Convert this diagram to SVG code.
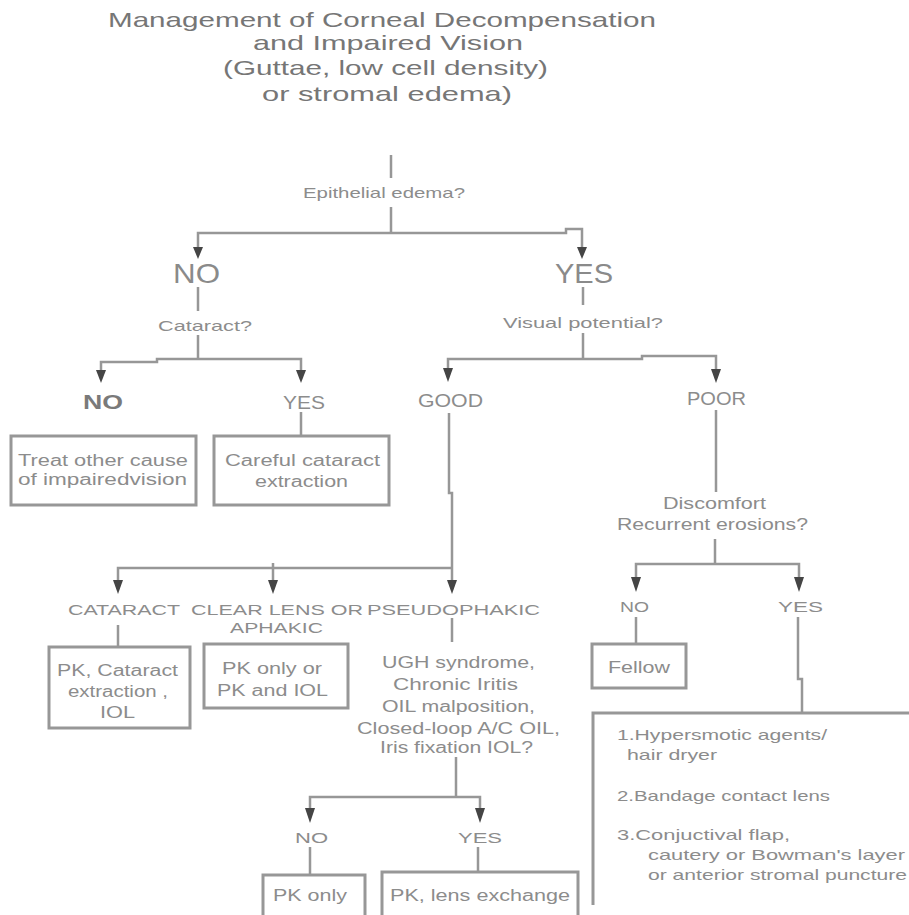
<svg xmlns="http://www.w3.org/2000/svg" width="909" height="915" viewBox="0 0 909 915">
<style>
text{font-family:"Liberation Sans",Arial,sans-serif;fill:#8c8c8c;}
.t{font-size:21px;fill:#767676;}
.s{font-size:15px;}
.m{font-size:16px;}
.b{font-size:28px;fill:#8a8a8a;}
.c{font-size:19px;}
.ln{fill:none;stroke:#979797;stroke-width:2.5;}
.bx{fill:none;stroke:#979797;stroke-width:3;}
.ar{fill:#454545;}
</style>
<rect width="909" height="915" fill="#fff"/>
<g id="title">
<text class="t" x="108" y="27" textLength="548" lengthAdjust="spacingAndGlyphs">Management of Corneal Decompensation</text>
<text class="t" x="253" y="50" textLength="270" lengthAdjust="spacingAndGlyphs">and Impaired Vision</text>
<text class="t" x="223" y="75" textLength="325" lengthAdjust="spacingAndGlyphs">(Guttae, low cell density)</text>
<text class="t" x="262" y="101" textLength="250" lengthAdjust="spacingAndGlyphs">or stromal edema)</text>
</g>
<g id="connectors">
<path class="ln" d="M391,155V178M391,207V233M198,248V233H566V229H582V248"/>
<path class="ln" d="M198,287V311M198,335V359M101,371V362H157V359H301V371M301,412V436"/>
<path class="ln" d="M583,287V305M583,333V359M448,369V359H642V356H716V370"/>
<path class="ln" d="M449,413V493H452V581M118,581V568H452M273,563V581M118,625V647M452,618V642"/>
<path class="ln" d="M456,757V797M310,809V797H480V809M310,847V875M478,847V872"/>
<path class="ln" d="M716,410V492M715,539V564M636,578V564H799V578M636,617V644M798,617V679H802V713"/>
<polygon class="ar" points="193,247 203,247 198,259"/>
<polygon class="ar" points="577,247 587,247 582,259"/>
<polygon class="ar" points="96,370 106,370 101,383"/>
<polygon class="ar" points="296,370 306,370 301,383"/>
<polygon class="ar" points="443,368 453,368 448,382"/>
<polygon class="ar" points="711,369 721,369 716,383"/>
<polygon class="ar" points="113,580 123,580 118,594"/>
<polygon class="ar" points="268,580 278,580 273,594"/>
<polygon class="ar" points="447,580 457,580 452,594"/>
<polygon class="ar" points="631,577 641,577 636,592"/>
<polygon class="ar" points="794,577 804,577 799,592"/>
<polygon class="ar" points="305,808 315,808 310,823"/>
<polygon class="ar" points="475,808 485,808 480,823"/>
</g>
<g id="q-epithelial"><text class="s" x="303" y="198" textLength="162" lengthAdjust="spacingAndGlyphs">Epithelial edema?</text></g>
<g id="no-1"><text class="b" x="173" y="283" textLength="47" lengthAdjust="spacingAndGlyphs">NO</text></g>
<g id="yes-1"><text class="b" x="555" y="283" textLength="58" lengthAdjust="spacingAndGlyphs">YES</text></g>
<g id="q-cataract"><text class="s" x="158" y="331" textLength="94" lengthAdjust="spacingAndGlyphs">Cataract?</text></g>
<g id="q-visual"><text class="s" x="503" y="328" textLength="160" lengthAdjust="spacingAndGlyphs">Visual potential?</text></g>
<g id="no-2"><text style="font-size:20px;fill:#7a7a7a;font-weight:bold" x="83" y="409" textLength="40" lengthAdjust="spacingAndGlyphs">NO</text></g>
<g id="yes-2"><text class="c" x="283" y="409" textLength="42" lengthAdjust="spacingAndGlyphs">YES</text></g>
<g id="good"><text class="c" x="418" y="407" textLength="65" lengthAdjust="spacingAndGlyphs">GOOD</text></g>
<g id="poor"><text class="c" x="687" y="405" textLength="59" lengthAdjust="spacingAndGlyphs">POOR</text></g>
<g id="box-treat">
<rect class="bx" x="11" y="436" width="185" height="69"/>
<text class="m" x="18" y="466" textLength="170" lengthAdjust="spacingAndGlyphs">Treat other cause</text>
<text class="m" x="18" y="485" textLength="169" lengthAdjust="spacingAndGlyphs">of impairedvision</text>
</g>
<g id="box-careful">
<rect class="bx" x="214" y="436" width="175" height="69"/>
<text class="m" x="225" y="466" textLength="155" lengthAdjust="spacingAndGlyphs">Careful cataract</text>
<text class="m" x="255" y="487" textLength="93" lengthAdjust="spacingAndGlyphs">extraction</text>
</g>
<g id="q-discomfort">
<text class="m" x="663" y="509" textLength="103" lengthAdjust="spacingAndGlyphs">Discomfort</text>
<text class="m" x="617" y="530" textLength="191" lengthAdjust="spacingAndGlyphs">Recurrent erosions?</text>
</g>
<g id="cataract"><text class="s" x="68" y="615" textLength="112" lengthAdjust="spacingAndGlyphs">CATARACT</text></g>
<g id="clear-lens">
<text class="s" x="191" y="615" textLength="172" lengthAdjust="spacingAndGlyphs">CLEAR LENS OR</text>
<text class="s" x="230" y="633" textLength="93" lengthAdjust="spacingAndGlyphs">APHAKIC</text>
</g>
<g id="pseudophakic"><text class="s" x="367" y="615" textLength="173" lengthAdjust="spacingAndGlyphs">PSEUDOPHAKIC</text></g>
<g id="no-3"><text class="s" x="620" y="612" textLength="29" lengthAdjust="spacingAndGlyphs">NO</text></g>
<g id="yes-3"><text class="s" x="778" y="612" textLength="45" lengthAdjust="spacingAndGlyphs">YES</text></g>
<g id="box-fellow">
<rect class="bx" x="592" y="644" width="94" height="44"/>
<text class="m" x="608" y="673" textLength="62" lengthAdjust="spacingAndGlyphs">Fellow</text>
</g>
<g id="box-pk-cataract">
<rect class="bx" x="49" y="647" width="141" height="81"/>
<text class="m" x="57" y="676" textLength="121" lengthAdjust="spacingAndGlyphs">PK, Cataract</text>
<text class="m" x="68" y="697" textLength="100" lengthAdjust="spacingAndGlyphs">extraction ,</text>
<text class="m" x="100" y="718" textLength="35" lengthAdjust="spacingAndGlyphs">IOL</text>
</g>
<g id="box-pk-only-or">
<rect class="bx" x="204" y="644" width="144" height="64"/>
<text class="m" x="222" y="674" textLength="100" lengthAdjust="spacingAndGlyphs">PK only or</text>
<text class="m" x="217" y="696" textLength="111" lengthAdjust="spacingAndGlyphs">PK and IOL</text>
</g>
<g id="q-ugh">
<text class="m" x="382" y="668" textLength="153" lengthAdjust="spacingAndGlyphs">UGH syndrome,</text>
<text class="m" x="393" y="690" textLength="125" lengthAdjust="spacingAndGlyphs">Chronic Iritis</text>
<text class="m" x="382" y="712" textLength="153" lengthAdjust="spacingAndGlyphs">OIL malposition,</text>
<text class="m" x="357" y="734" textLength="203" lengthAdjust="spacingAndGlyphs">Closed-loop A/C OIL,</text>
<text class="m" x="380" y="753" textLength="153" lengthAdjust="spacingAndGlyphs">Iris fixation IOL?</text>
</g>
<g id="no-4"><text class="s" x="295" y="843" textLength="33" lengthAdjust="spacingAndGlyphs">NO</text></g>
<g id="yes-4"><text class="s" x="458" y="843" textLength="44" lengthAdjust="spacingAndGlyphs">YES</text></g>
<g id="box-pk-only">
<rect class="bx" x="263" y="875" width="102" height="60"/>
<text class="m" x="273" y="901" textLength="74" lengthAdjust="spacingAndGlyphs">PK only</text>
</g>
<g id="box-pk-lens">
<rect class="bx" x="382" y="872" width="196" height="60"/>
<text class="m" x="390" y="901" textLength="180" lengthAdjust="spacingAndGlyphs">PK, lens exchange</text>
</g>
<g id="box-treatments">
<path class="bx" d="M593,905V713H915"/>
<text class="s" x="617" y="740" textLength="210" lengthAdjust="spacingAndGlyphs">1.Hypersmotic agents/</text>
<text class="s" x="627" y="760" textLength="90" lengthAdjust="spacingAndGlyphs">hair dryer</text>
<text class="s" x="617" y="801" textLength="213" lengthAdjust="spacingAndGlyphs">2.Bandage contact lens</text>
<text class="s" x="617" y="840" textLength="173" lengthAdjust="spacingAndGlyphs">3.Conjuctival flap,</text>
<text class="s" x="648" y="860" textLength="257" lengthAdjust="spacingAndGlyphs">cautery or Bowman's layer</text>
<text class="s" x="648" y="880" textLength="259" lengthAdjust="spacingAndGlyphs">or anterior stromal puncture</text>
</g>
</svg>
